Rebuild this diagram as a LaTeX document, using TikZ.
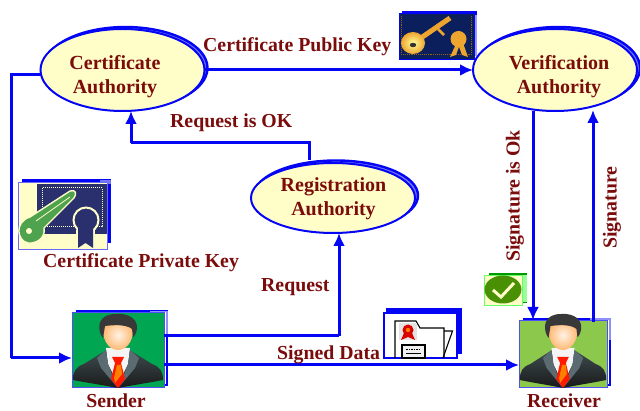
\documentclass[tikz,border=0pt]{standalone}
\usepackage{fontspec}
\setmainfont{Liberation Serif}
\usetikzlibrary{shapes.geometric,arrows.meta}
\definecolor{lab}{HTML}{7B0C0C}
\definecolor{bl}{HTML}{0505F5}
\definecolor{ell}{HTML}{FFFDC8}
\definecolor{navy}{HTML}{0A1F5C}
\definecolor{panel}{HTML}{2A2F6E}
\definecolor{gold}{HTML}{EEA52F}
\definecolor{keygreen}{HTML}{4FA34F}
\definecolor{sendbg}{HTML}{00A651}
\definecolor{recvbg}{HTML}{8CC84B}
\definecolor{jacket}{HTML}{3E4B50}
\definecolor{lapel}{HTML}{5A6C72}
\definecolor{chkgreen}{HTML}{4A9005}
\newcommand{\personfig}[2]{%
\begin{scope}[shift={(#1,388)},xscale=#2]
 \shade[top color=jacket,bottom color=black!90] (-45,-8) .. controls (-45,-17) and (-42,-21) .. (-34,-24) -- (-13,-37) -- (13,-37) -- (34,-24) .. controls (42,-21) and (45,-17) .. (45,-8) .. controls (30,-5) and (15,-3) .. (0,0) .. controls (-15,-3) and (-30,-5) .. (-45,-8) -- cycle;
 \fill[white!92!gray] (-12,-40) -- (12,-40) -- (10,-24) -- (0,-4) -- (-10,-24) -- cycle;
 \fill[lapel] (-12,-38) -- (-21,-30) -- (-17,-20) -- (-1,-1) -- (-10,-24) -- cycle;
 \fill[lapel] (12,-38) -- (21,-30) -- (17,-20) -- (1,-1) -- (10,-24) -- cycle;
 \fill[red!80!orange] (-6,-31) -- (6,-31) -- (3,-25) -- (7,-9) -- (0,0) -- (-7,-9) -- (-3,-25) -- cycle;
 \fill[orange] (-1,-23) -- (3,-23) -- (4,-14) -- (-3,-5) -- (-4,-10) -- cycle;
 \shade[inner color=white!90!orange,outer color=orange!55!white] (-15,-58) .. controls (-15,-46) and (-8,-38) .. (0,-38) .. controls (8,-38) and (15,-46) .. (15,-58) -- (15,-68) -- (-15,-68) -- cycle;
 \fill[black!78] (-17,-53) .. controls (-21,-62) and (-19,-74) .. (-2,-74) .. controls (12,-75) and (20,-68) .. (19,-59) .. controls (18,-54) and (16,-51) .. (15,-51) -- (14,-59) .. controls (8,-64) and (-5,-63) .. (-13,-62) -- (-15,-50) -- cycle;
\end{scope}}
\tikzset{x=1pt,y=-1pt,
 auth/.style={ellipse,draw=bl,line width=2pt,fill=ell,inner sep=0pt,outer sep=0pt,align=center,text=lab,font=\bfseries\fontsize{20}{24}\selectfont},
 authback/.style={ellipse,draw=bl,fill=bl!55!white,line width=2.4pt,inner sep=0pt,outer sep=0pt},
 lbl/.style={text=lab,font=\bfseries\fontsize{19.8}{22}\selectfont,inner sep=0pt},
 conn/.style={draw=bl,line width=3pt,-{Latex[length=13pt,width=12pt]}},
 connplain/.style={draw=bl,line width=3pt},
 person/.style={rectangle,draw=bl!70!white,line width=1pt,inner sep=0pt,outer sep=0pt},
}
\begin{document}
\begin{tikzpicture}
\useasboundingbox (0,0) rectangle (640,411);
% ellipses shadows
\node[authback,minimum width=164pt,minimum height=82pt] (cab) at (125.5,68) {};
\node[authback,minimum width=164pt,minimum height=82pt] (vab) at (558,68) {};
\node[authback,minimum width=164pt,minimum height=70pt] (rab) at (336,195.5) {};
% ellipses
\node[auth,minimum width=164pt,minimum height=82pt] (ca) at (122.5,70) {};
\node[auth,minimum width=164pt,minimum height=82pt] (va) at (555,70) {};
\node[auth,minimum width=164pt,minimum height=70pt] (ra) at (333,198) {};
\node[lbl,align=center,font=\bfseries\fontsize{20}{24}\selectfont] (cat) at (115,76.5) {Certificate\\Authority};
\node[lbl,align=center,font=\bfseries\fontsize{20}{24}\selectfont] (vat) at (559,76.5) {Verification\\Authority};
\node[lbl,align=center,font=\bfseries\fontsize{20}{24}\selectfont] (rat) at (333.5,198.5) {Registration\\Authority};
% person boxes
\fill[bl] (76,310) rectangle (168,386);
\fill[bl!45!white] (150,311) rectangle (168,335);
\fill[white] (76,312.5) rectangle (166,384);
\node[person,fill=sendbg,minimum width=92pt,minimum height=75pt] (sender) at (118,350.5) {};
\personfig{118}{1}
\fill[bl] (523,318) rectangle (611,386);
\fill[bl!45!white] (590,318) rectangle (611,340);
\fill[white] (523,320) rectangle (609,384);
\node[person,fill=recvbg,minimum width=88pt,minimum height=67pt] (receiver) at (563,354.5) {};
\personfig{563}{0.96}
% named bends
\coordinate (b1) at (11,75);
\coordinate (b2) at (11,358);
\coordinate (b3) at (309,143);
\coordinate (b4) at (131,143);
\coordinate (b5) at (339,336);
% connectors
\draw[connplain] ([yshift=-5pt]ca.west) -- (b1) -- (b2);
\draw[conn] (b2) -- (sender.west |- b2);
\draw[conn] (ca.east) -- (va.west);
\draw[connplain] (b3 |- 0,160) -- (b3) -- (b4);
\draw[conn] (b4) -- (b4 |- ca.south);
\draw[connplain] ([yshift=14.5pt]sender.east) -- (b5);
\draw[conn] (b5) -- (b5 |- ra.south);
\draw[conn] ([yshift=-14.5pt]sender.east) -- (receiver.west |- 0,365);
\draw[conn] (533,111) -- (533,320);
\draw[conn] (593,322) -- (593,110);
% public key icon
\fill[bl] (402,11) rectangle (477,56);
\fill[white!60!bl] (470,15) rectangle (477,56);
\node[rectangle,fill=navy,draw=bl,line width=1pt,minimum width=75pt,minimum height=46pt,inner sep=0pt] (pubicon) at (436.5,37) {};
\draw[gold!60!black,densely dotted,line width=.9pt] (401,54) -- (472,54);
\draw[gold!60!black,densely dotted,line width=.9pt] (471,16) -- (471,53);
\draw[gold!60!black,densely dotted,line width=.9pt] (401,16) -- (401,53);
\draw[gold,line width=5pt] (418,40) -- (450,18);
\draw[gold,line width=2.5pt] (438,29) -- (444,35);
\shade[inner color=yellow!40!white,outer color=gold] (413,43) ellipse (12pt and 11pt);
\fill[black!80] (413,45) ellipse (3.2pt and 2.2pt);
\fill[gold] (458.5,39) circle (8pt);
\fill[gold] (456,44) -- (450,57) -- (456,55) -- (460,44) -- cycle;
\fill[gold] (458,44) -- (462,55) -- (468,57) -- (463,43) -- cycle;
% private key icon
\fill[bl] (22,179.5) rectangle (111,243);
\fill[bl!55!white] (100,180) rectangle (111,184);
\node[rectangle,fill=ell,draw=bl!60!white,line width=.9pt,minimum width=89pt,minimum height=67pt,inner sep=0pt] (privicon) at (62.5,215.5) {};
\fill[panel] (37,184) rectangle (107,234);
\draw[ell,densely dotted,line width=1pt] (42,188) rectangle (102,227);
\draw[ell,line width=1.4pt,fill=keygreen] (30,217) -- (70,191) .. controls (76,189) and (77,194) .. (74,198) -- (44,228) .. controls (46,238) and (36,244) .. (28,243) .. controls (17,241) and (14,222) .. (30,217) -- cycle;
\draw[ell,line width=.8pt] (36,221) -- (70,197);
\fill[ell] (29,231) circle (3pt);
\draw[ell,line width=2pt,fill=panel] (86,220) circle (12.5pt);
\fill[ell] (76,230) rectangle (95,249);
\fill[panel] (78,228) -- (78,248) -- (85.5,243) -- (93,248) -- (93,228) -- cycle;
% check icon
\fill[green!60!black] (489,273) rectangle (527,303);
\fill[white!60!green] (521,275) rectangle (527,302);
\node[rectangle,fill=ell,draw=green!60!white,line width=.8pt,minimum width=38pt,minimum height=30pt,inner sep=0pt] (chkicon) at (503,290) {};
\node[ellipse,fill=chkgreen,minimum width=37pt,minimum height=28pt,inner sep=0pt] (chk) at (503,289.5) {};
\draw[ell,line width=3pt] (493,290) -- (501,297) -- (514,283);
% folder icon
\fill[bl] (386,308) rectangle (462,354);
\node[rectangle,fill=white,draw=bl,line width=1.2pt,minimum width=73pt,minimum height=45pt,inner sep=0pt] (foldicon) at (420.5,335.5) {};
\draw[black,line width=1.1pt] (443,358) -- (452.5,331) -- (444,331);
\draw[black,line width=1.1pt] (395,358) -- (395,321) -- (416,321) -- (420,328) -- (444,328) -- (444,358);
\fill[gray!22] (399,323) rectangle (417,340);
\fill[red!85!black] (408,330) circle (5.5pt);
\fill[orange] (408,330) circle (2.2pt);
\fill[red!85!black] (404,333) -- (401,340) -- (408,337) -- (415,340) -- (412,333) -- cycle;
\draw[black,line width=1.1pt,fill=gray!12] (402,345) rectangle (425,358);
\draw[black,line width=1.5pt,densely dotted] (406,349.5) -- (421,349.5);
\draw[black,line width=1pt] (406,353.5) -- (421,353.5);
% labels
\node[lbl,anchor=west] (t1) at (203,47) {Certificate Public Key};
\node[lbl,anchor=west] (t2) at (170,123) {Request is OK};
\node[lbl,anchor=west] (t3) at (43,263) {Certificate Private Key};
\node[lbl,anchor=west] (t4) at (261,287) {Request};
\node[lbl,anchor=west] (t5) at (277,355) {Signed Data};
\node[lbl] (t6) at (116,401) {Sender};
\node[lbl] (t7) at (564,401) {Receiver};
\node[lbl,rotate=90,anchor=west] (t8) at (515,262) {Signature is Ok};
\node[lbl,rotate=90,anchor=west] (t9) at (612,249) {Signature};
\end{tikzpicture}
\end{document}
